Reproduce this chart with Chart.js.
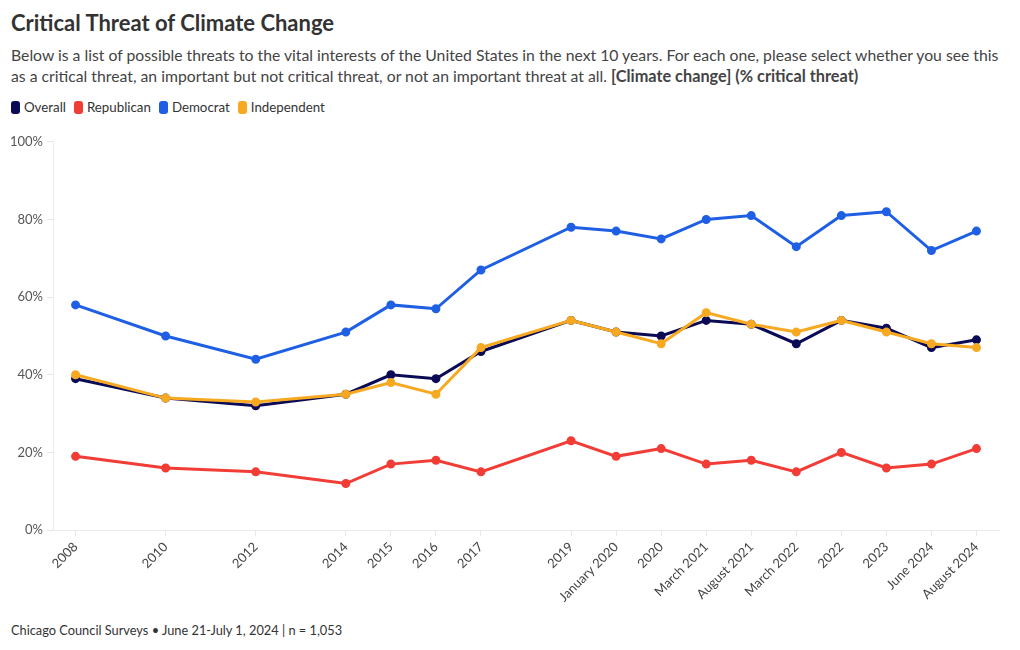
<!DOCTYPE html>
<html>
<head>
<meta charset="utf-8">
<script src="https://cdn.jsdelivr.net/npm/chart.js@4/dist/chart.umd.min.js"></script>
<style>
  body { margin: 0; background: #fff; font-family: Lato, "Open Sans", sans-serif; color: #333; }
  #wrap { position: relative; width: 1020px; height: 650px; overflow: hidden; }
  h1 { position: absolute; left: 11px; top: 9px; margin: 0; font-size: 22px; font-weight: 700; color: #333; white-space: nowrap; }
  .sub { position: absolute; left: 11px; top: 44px; margin: 0; font-size: 15.75px; line-height: 21px; color: #444; white-space: nowrap; }
  .sub b { font-size: 16.3px; }
  .legend { position: absolute; left: 11px; top: 99px; font-size: 13.3px; color: #333; white-space: nowrap; }
  .legend span.item { margin-right: 8px; }
  .legend i { display: inline-block; width: 9px; height: 13px; border-radius: 3px; vertical-align: -2px; margin-right: 4px; }
  .foot { position: absolute; left: 11px; top: 622px; font-size: 12.8px; color: #333; white-space: nowrap; }
  #chartBox { position: absolute; left: 0; top: 130px; width: 1020px; height: 478px; }
</style>
</head>
<body>
<div id="wrap">
  <h1>Critical Threat of Climate Change</h1>
  <p class="sub">Below is a list of possible threats to the vital interests of the United States in the next 10 years. For each one, please select whether you see this<br>as a critical threat, an important but not critical threat, or not an important threat at all. <b>[Climate change] (% critical threat)</b></p>
  <div class="legend" id="legend"></div>
  <div id="chartBox"><canvas id="threat-chart"></canvas></div>
  <div class="foot">Chicago Council Surveys • June 21-July 1, 2024 | n = 1,053</div>
</div>
<script>
// survey waves; blank entries keep the gaps for years without a survey
const waves = ['2008', '', '2010', '', '2012', '', '2014', '2015', '2016', '2017', '', '2019',
  'January 2020', '2020', 'March 2021', 'August 2021', 'March 2022', '2022', '2023', 'June 2024', 'August 2024'];

const overall     = [39, null, 34, null, 32, null, 35, 40, 39, 46, null, 54, 51, 50, 54, 53, 48, 54, 52, 47, 49];
const republican  = [19, null, 16, null, 15, null, 12, 17, 18, 15, null, 23, 19, 21, 17, 18, 15, 20, 16, 17, 21];
const democrat    = [58, null, 50, null, 44, null, 51, 58, 57, 67, null, 78, 77, 75, 80, 81, 73, 81, 82, 72, 77];
const independent = [40, null, 34, null, 33, null, 35, 38, 35, 47, null, 54, 51, 48, 56, 53, 51, 54, 51, 48, 47];

const yTicks = [0, 20, 40, 60, 80, 100];

const seriesNames = ['Overall', 'Republican', 'Democrat', 'Independent'];
const seriesColors = ['#0b0a55', '#f23d37', '#1f5fe4', '#f8a922'];

function makeSet(i, values, order) {
    return {
        label: seriesNames[i],
        data: values,
        borderColor: seriesColors[i],
        backgroundColor: seriesColors[i],
        borderWidth: 3,
        pointRadius: 3,
        pointHoverRadius: 4,
        tension: 0,
        spanGaps: true,
        order: order
    };
}

function renderLegend() {
    let box = document.getElementById('legend');
    box.innerHTML = seriesNames.map(function(name, i) {
        return '<span class="item"><i style="background:' + seriesColors[i] + '"></i>' + name + '</span>';
    }).join('');
}

function renderChart() {
    let ctx = document.getElementById('threat-chart');
    new Chart(ctx, {
        type: 'line',
        data: {
            labels: waves,
            datasets: [
                makeSet(0, overall, 1),
                makeSet(1, republican, 3),
                makeSet(2, democrat, 2),
                makeSet(3, independent, 0)
            ]
        },
        options: {
            responsive: true,
            maintainAspectRatio: false,
            animation: false,
            layout: { padding: { left: 6, right: 21, top: 8, bottom: 0 } },
            plugins: { legend: { display: false }, tooltip: { enabled: false } },
            scales: {
                x: {
                    offset: true,
                    border: { color: '#ebebeb' },
                    grid: {
                        drawOnChartArea: false,
                        tickLength: 6,
                        offset: false,
                        color: function(c) {
                            return waves[c.index] ? '#e6e6e6' : 'rgba(0,0,0,0)';
                        }
                    },
                    ticks: {
                        autoSkip: false,
                        maxRotation: 45,
                        minRotation: 45,
                        color: '#444',
                        font: { family: 'Lato', size: 13 }
                    }
                },
                y: {
                    min: 0,
                    max: 100,
                    afterBuildTicks: function(axis) {
                        axis.ticks = yTicks.map(function(v) { return { value: v }; });
                    },
                    border: { color: '#ebebeb' },
                    grid: { drawOnChartArea: false, tickLength: 6, color: '#e6e6e6' },
                    ticks: {
                        color: '#555',
                        padding: 4,
                        font: { family: 'Lato', size: 13 },
                        callback: function(v) { return v + '%'; }
                    }
                }
            }
        }
    });
}

function app() {
    renderLegend();
    renderChart();
}

app();
</script>
</body>
</html>
